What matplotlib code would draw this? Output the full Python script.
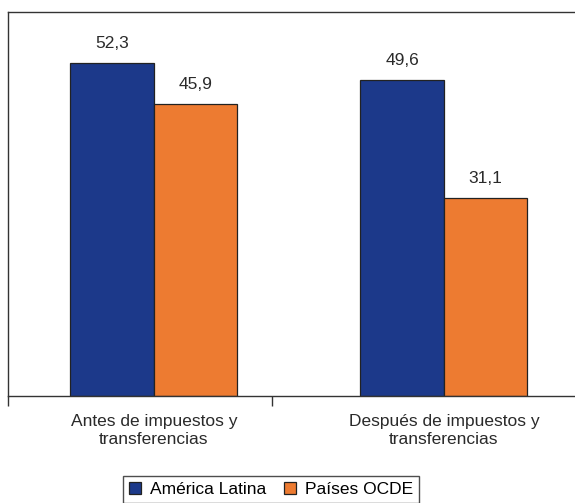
import matplotlib.pyplot as plt
import numpy as np

categories = ["Antes de impuestos y\ntransferencias", "Después de impuestos y\ntransferencias"]
series_names = ["América Latina", "Países OCDE"]
america_latina = [52.3, 49.6]
paises_ocde = [45.9, 31.1]
colors = ["#1c398a", "#ed7b31"]

plt.rcParams["font.family"] = ["Liberation Sans", "DejaVu Sans"]

fig = plt.figure(figsize=(5.75, 5.03), dpi=100)
# axes box in pixels: left 8, top 12, bottom 396, right beyond the image
ax = fig.add_axes([8 / 575, 1 - 396 / 503, 1.02, (396 - 12) / 503])

x = np.arange(len(categories))
width = 0.288
b1 = ax.bar(x - width / 2, america_latina, width, color=colors[0],
            edgecolor="#222222", linewidth=0.9, label=series_names[0])
b2 = ax.bar(x + width / 2, paises_ocde, width, color=colors[1],
            edgecolor="#222222", linewidth=0.9, label=series_names[1])

for bars, vals in [(b1, america_latina), (b2, paises_ocde)]:
    for bar, v in zip(bars, vals):
        ax.text(bar.get_x() + bar.get_width() / 2, v + 1.9,
                f"{v:.1f}".replace(".", ","), ha="center", va="bottom",
                fontsize=12.5, color="#2a2a2a")

ax.set_ylim(0, 60.3)
ax.set_xlim(-0.503, -0.503 + 1.02 * 575 / 290)
ax.set_yticks([])
ax.set_xticks([-0.503, 0.407])
ax.set_xticklabels([])
ax.tick_params(axis="x", which="major", length=7, width=1, color="#333333", direction="out")
ax.set_xticks(x, minor=True)
ax.set_xticklabels(categories, minor=True, fontsize=12.5, color="#2a2a2a",
                   linespacing=1.25)
ax.tick_params(axis="x", which="minor", length=0, pad=13)
for s in ["top", "left", "bottom", "right"]:
    ax.spines[s].set_color("#333333")
    ax.spines[s].set_linewidth(1.0)

leg = fig.legend(loc="upper center", bbox_to_anchor=(271 / 575, 1 - 476 / 503),
                 borderaxespad=0, ncol=2, frameon=True, fancybox=False,
                 fontsize=12.5, handlelength=0.7, handleheight=0.7,
                 handletextpad=0.5, columnspacing=1.0, borderpad=0.35)
leg.get_frame().set_edgecolor("#222222")
leg.get_frame().set_linewidth(1.0)

fig.savefig("out.png", dpi=100)
